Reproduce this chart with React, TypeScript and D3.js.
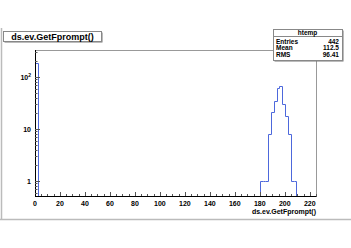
import { useEffect, useRef } from "react";
import * as d3 from "d3";

// histogram htemp: 100 bins over [0, 225], only non-empty bins listed
const binLows = [0, 180, 182.25, 184.5, 186.75, 189, 191.25, 193.5, 195.75, 198, 200.25, 202.5, 204.75, 207];
const binCounts = [189, 1, 1, 1, 8, 21, 34, 62, 67, 30, 18, 8, 1, 1];
const binWidth = 2.25;
const xDomain = [0, 225];
const yDomain = [0.515, 331];
const xTicks = [0, 20, 40, 60, 80, 100, 120, 140, 160, 180, 200, 220];
const yTicks = [1, 10, 100];
const statRows = [
  ["Entries", "442"],
  ["Mean", "112.5"],
  ["RMS", "96.41"],
];

export default function App() {
  const ref = useRef<SVGSVGElement>(null);
  const W = 351, H = 248;
  const left = 35, right = 316, top = 50, bottom = 196;
  const font = "'Liberation Sans', Arial, sans-serif";

  useEffect(() => {
    if (!ref.current) return;
    const svg = d3.select(ref.current);
    svg.selectAll("*").remove();

    const x = d3.scaleLinear().domain(xDomain).range([left, right]);
    const y = d3.scaleLog().domain(yDomain).range([bottom, top]);

    // canvas border
    svg.append("line").attr("x1", 1.5).attr("x2", 1.5).attr("y1", 28).attr("y2", 219)
      .attr("stroke", "#bbb").attr("stroke-width", 1.5);
    svg.append("line").attr("x1", 0).attr("x2", W).attr("y1", 219.5).attr("y2", 219.5)
      .attr("stroke", "#bbb").attr("stroke-width", 1.5);

    // frame
    svg.append("rect").attr("x", left + 0.5).attr("y", top + 0.5)
      .attr("width", right - left).attr("height", bottom - top)
      .attr("fill", "none").attr("stroke", "#999").attr("stroke-width", 1);

    // histogram outline
    const pts: [number, number][] = [[x(0), bottom]];
    let prevEnd = 0;
    binLows.forEach((lo, i) => {
      if (lo > prevEnd + 1e-6) {
        pts.push([x(prevEnd), bottom]);
        pts.push([x(lo), bottom]);
      }
      pts.push([x(lo), y(binCounts[i])]);
      pts.push([x(lo + binWidth), y(binCounts[i])]);
      prevEnd = lo + binWidth;
    });
    pts.push([x(prevEnd), bottom]);
    svg.append("path")
      .attr("d", d3.line().curve(d3.curveLinear)(pts.map(p => [Math.round(p[0]) + 0.5, Math.round(p[1]) + 0.5])) || "")
      .attr("fill", "none").attr("stroke", "#4d68dc").attr("stroke-width", 1);

    // x axis
    const xa = svg.append("g");
    xa.append("line").attr("x1", left).attr("x2", right + 0.5).attr("y1", bottom + 0.5).attr("y2", bottom + 0.5)
      .attr("stroke", "#000");
    d3.range(0, 226, 5).forEach(v => {
      const major = xTicks.includes(v);
      const px = Math.round(x(v)) + 0.5;
      xa.append("line").attr("x1", px).attr("x2", px).attr("y1", bottom).attr("y2", bottom - (major ? 4 : 2))
        .attr("stroke", "#555");
    });
    xa.selectAll("text.xl").data(xTicks).enter().append("text")
      .attr("x", d => x(d)).attr("y", 205.5).attr("text-anchor", "middle")
      .attr("font-family", font).attr("font-weight", "bold").attr("font-size", 7)
      .text(d => d);
    xa.append("text").attr("x", right).attr("y", 214).attr("text-anchor", "end")
      .attr("font-family", font).attr("font-weight", "bold").attr("font-size", 7)
      .text("ds.ev.GetFprompt()");

    // y axis (log)
    const ya = svg.append("g");
    ya.append("line").attr("x1", left + 0.5).attr("x2", left + 0.5).attr("y1", top).attr("y2", bottom)
      .attr("stroke", "#000");
    const minor: number[] = [];
    [0.1, 1, 10, 100].forEach(d => d3.range(1, 10).forEach(k => minor.push(d * k)));
    minor.filter(v => v >= yDomain[0] && v <= yDomain[1]).forEach(v => {
      const major = yTicks.includes(Math.round(v * 1000) / 1000);
      const py = Math.round(y(v)) + 0.5;
      ya.append("line").attr("x1", left).attr("x2", left + (major ? 5 : 2.5)).attr("y1", py).attr("y2", py)
        .attr("stroke", "#555");
    });
    yTicks.forEach(v => {
      const t = ya.append("text").attr("x", 31).attr("y", y(v) + 2.5).attr("text-anchor", "end")
        .attr("font-family", font).attr("font-weight", "bold").attr("font-size", 7);
      if (v === 100) {
        t.append("tspan").text("10");
        t.append("tspan").attr("font-size", 5).attr("dy", -3).text("2");
      } else {
        t.text(v);
      }
    });

    // title box
    const tb = svg.append("g");
    tb.append("rect").attr("x", 4.5).attr("y", 32.5).attr("width", 98).attr("height", 10)
      .attr("fill", "#777");
    tb.append("rect").attr("x", 3.5).attr("y", 31.5).attr("width", 98).attr("height", 10)
      .attr("fill", "#fff").attr("stroke", "#888");
    tb.append("text").attr("x", 52.5).attr("y", 39.5).attr("text-anchor", "middle")
      .attr("font-family", font).attr("font-weight", "bold").attr("font-size", 9)
      .text("ds.ev.GetFprompt()");

    // stats box
    const sb = svg.append("g");
    const sx0 = 273, sx1 = 342, sy0 = 29, sy1 = 60;
    sb.append("rect").attr("x", sx0 + 1.5).attr("y", sy0 + 1.5).attr("width", sx1 - sx0).attr("height", sy1 - sy0)
      .attr("fill", "#777");
    sb.append("rect").attr("x", sx0 + 0.5).attr("y", sy0 + 0.5).attr("width", sx1 - sx0).attr("height", sy1 - sy0)
      .attr("fill", "#fff").attr("stroke", "#888");
    sb.append("line").attr("x1", sx0).attr("x2", sx1).attr("y1", 36.5).attr("y2", 36.5).attr("stroke", "#888");
    sb.append("text").attr("x", (sx0 + sx1) / 2).attr("y", 35).attr("text-anchor", "middle")
      .attr("font-family", font).attr("font-weight", "bold").attr("font-size", 6.5).text("htemp");
    statRows.forEach((r, i) => {
      const by = 44 + i * 6.3;
      sb.append("text").attr("x", sx0 + 3).attr("y", by)
        .attr("font-family", font).attr("font-weight", "bold").attr("font-size", 6.5).text(r[0]);
      sb.append("text").attr("x", sx1 - 3).attr("y", by).attr("text-anchor", "end")
        .attr("font-family", font).attr("font-weight", "bold").attr("font-size", 6.5).text(r[1]);
    });
  }, []);

  return (
    <div style={{ position: "absolute", left: 0, top: 0, width: W, height: H, background: "#fff" }}>
      <svg ref={ref} width={W} height={H} viewBox={`0 0 ${W} ${H}`} />
    </div>
  );
}
